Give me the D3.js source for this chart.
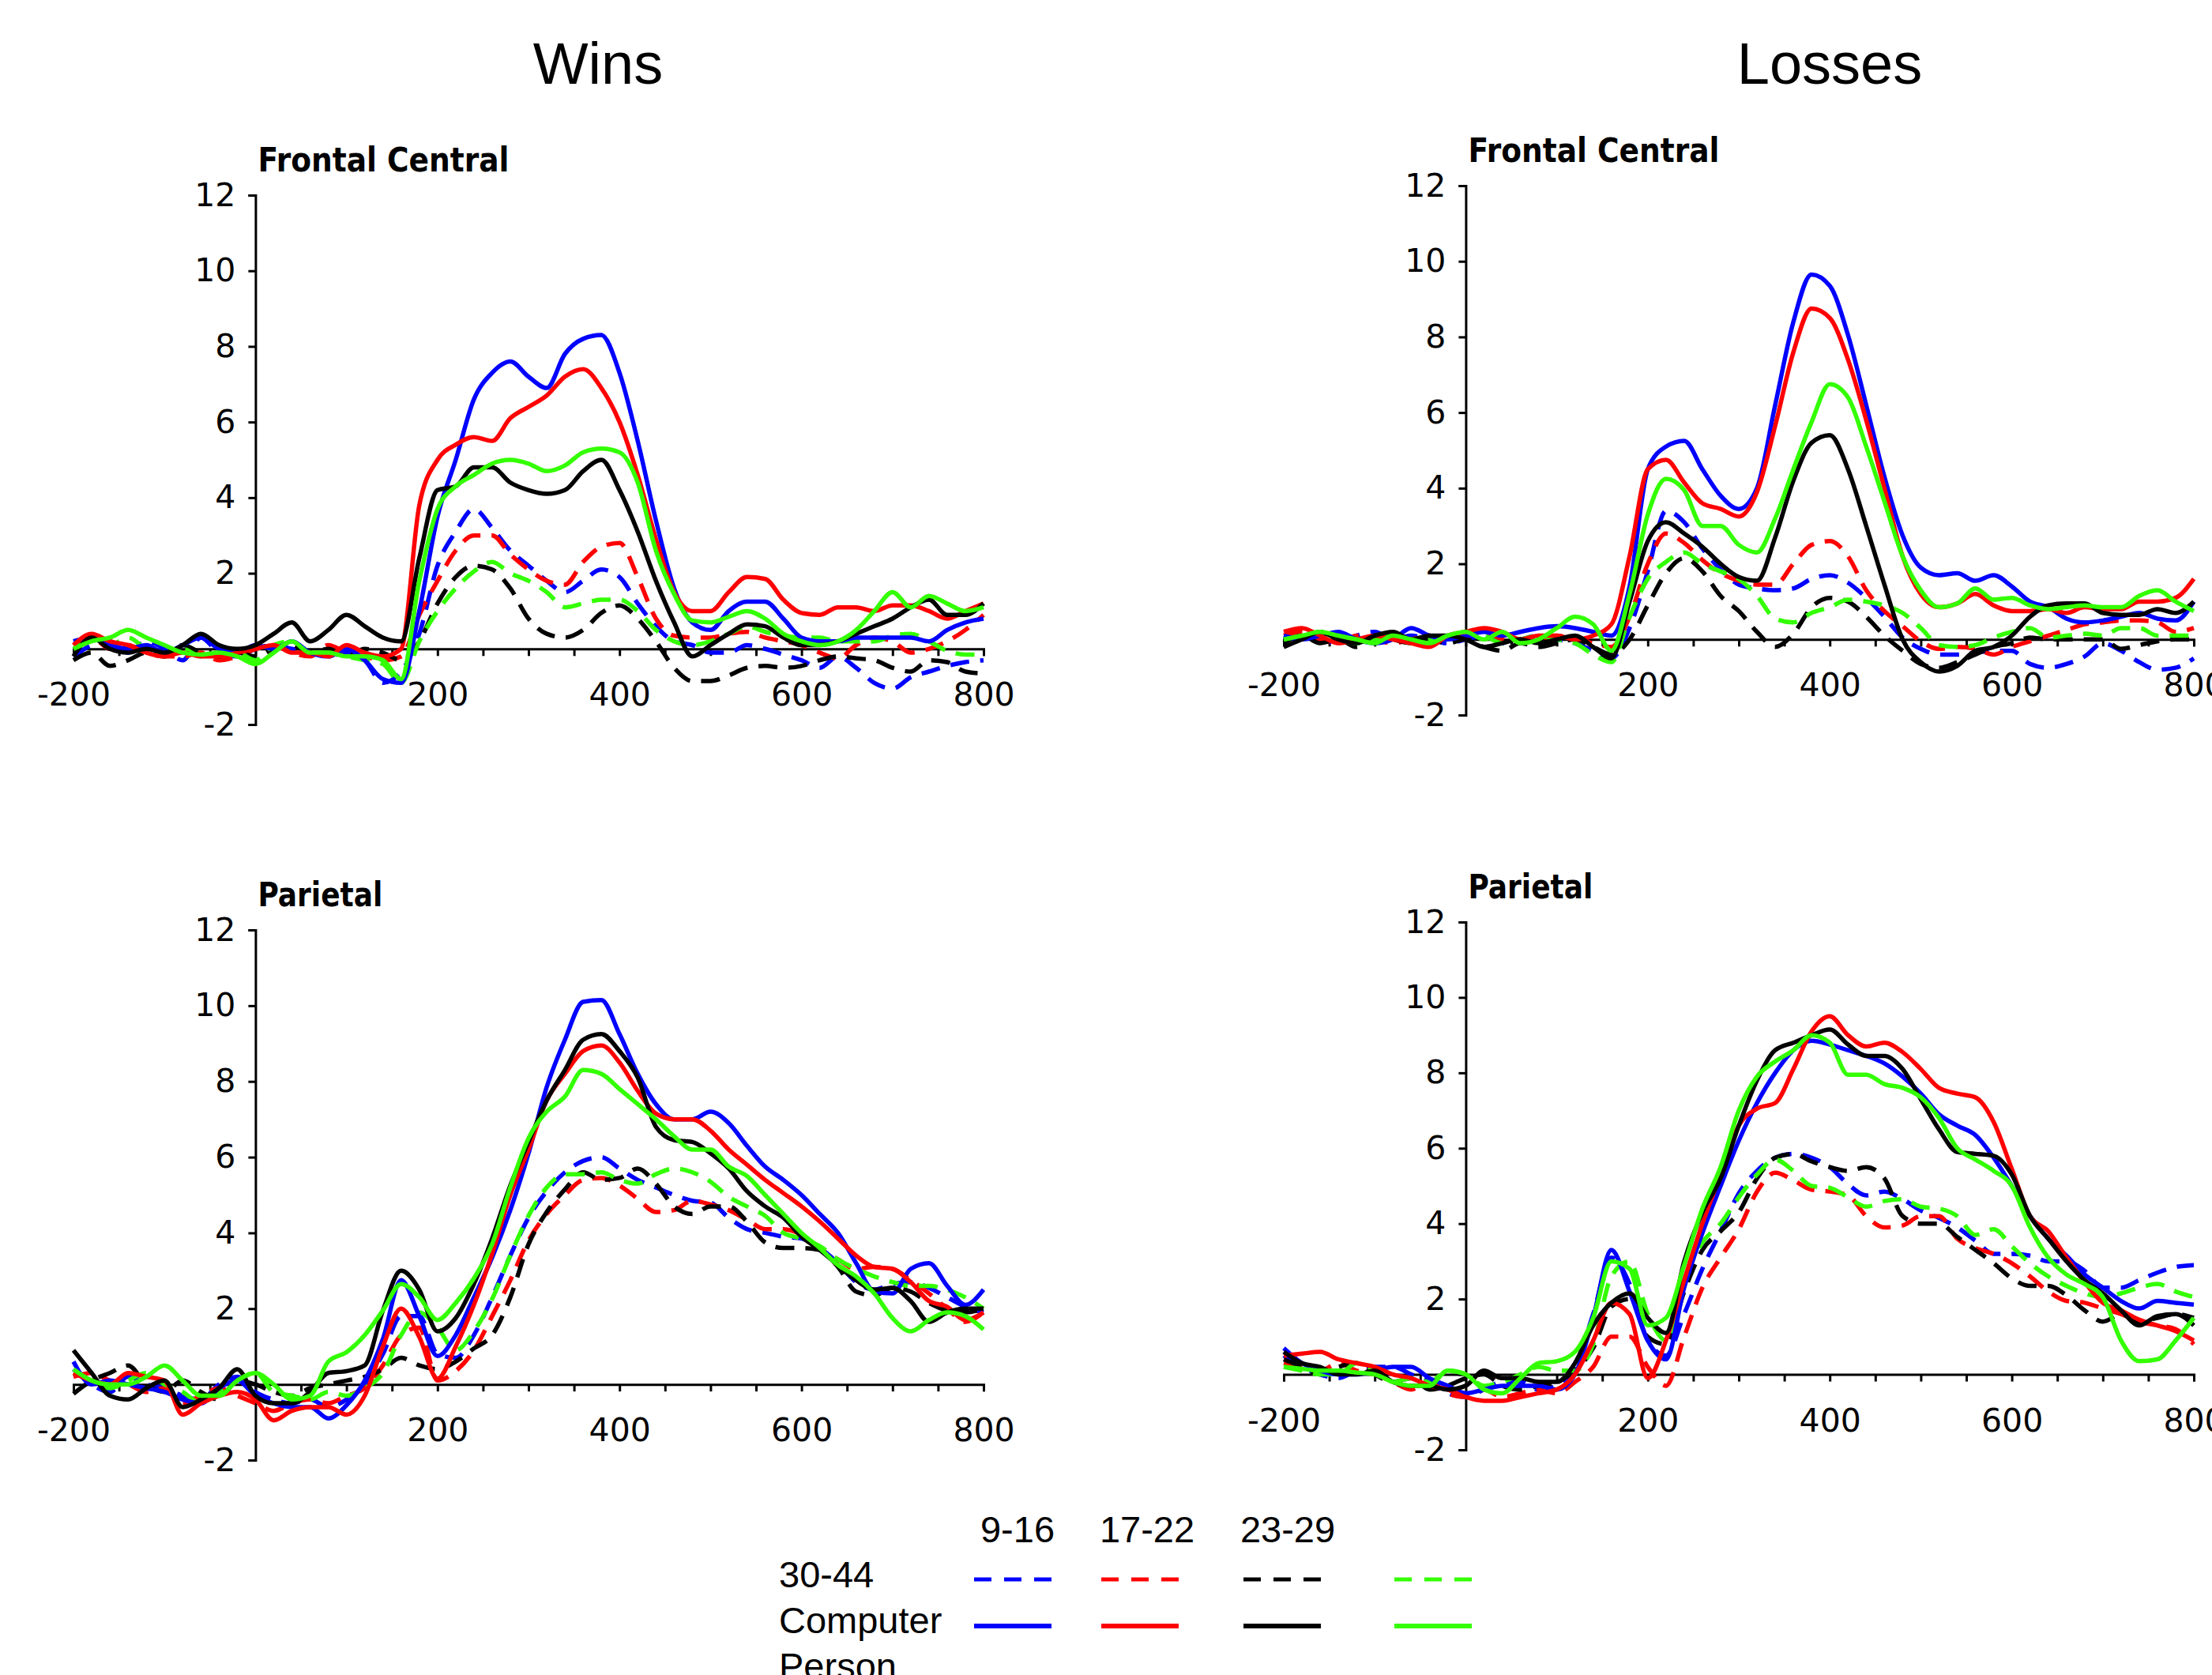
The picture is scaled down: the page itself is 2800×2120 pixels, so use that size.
<!DOCTYPE html>
<html>
<head>
<meta charset="utf-8">
<script src="https://cdn.jsdelivr.net/npm/d3@7"></script>
<style>
  body { margin: 0; background: #fff; }
</style>
</head>
<body>
<script>

// sample times (ms) shared by every waveform
var times = [-200,-180,-160,-140,-120,-100,-80,-60,-40,-20,
             0,20,40,60,80,100,120,140,160,180,
             200,220,240,260,280,300,320,340,360,380,
             400,420,440,460,480,500,520,540,560,580,
             600,620,640,660,680,700,720,740,760,780,800];

var ageGroups = ["9-16", "17-22", "23-29", "30-44"];
var groupColors = ["#0000ff", "#ff0000", "#000000", "#33ff00"];
var rowLabels = ["30-44", "Computer", "Person"];
var columnTitles = ["Wins", "Losses"];
var regionNames = ["Frontal Central", "Parietal"];

var yTicks = [-2, 0, 2, 4, 6, 8, 10, 12];
var xTicks = [-200,-150,-100,-50,0,50,100,150,200,250,300,350,400,450,500,550,600,650,700,750,800];
var xLabels = [-200, 200, 400, 600, 800];

// ---- Wins, Frontal Central ----
var wfDash916  = [-0.2,0.1,0.2,-0.1,0.2,0.0,-0.3,0.3,-0.1,-0.2, 0.0,0.1,0.0,-0.1,-0.2,-0.1,-0.3,-0.9,-0.6,0.4, 2.2,3.1,3.7,3.2,2.6,2.2,1.8,1.5,1.8,2.1, 1.9,1.2,0.6,0.2,0.1,-0.1,-0.1,0.1,0.0,-0.15, -0.3,-0.5,-0.2,-0.5,-0.9,-1.05,-0.75,-0.6,-0.45,-0.35, -0.3];
var wfDash1722 = [0.1,0.3,0.0,0.1,-0.1,-0.2,-0.2,-0.1,-0.3,-0.2, 0.0,0.1,-0.1,-0.2,0.1,-0.1,-0.2,-0.3,-0.2,0.9, 1.8,2.6,3.0,3.0,2.5,2.1,1.8,1.7,2.3,2.7, 2.8,1.9,0.8,0.35,0.3,0.3,0.4,0.45,0.3,0.2, 0.1,-0.1,-0.25,0.1,0.3,0.2,-0.1,0.0,0.2,0.5, 0.9];
var wfDash2329 = [-0.3,-0.1,-0.45,-0.3,-0.1,-0.2,0.1,-0.1,-0.2,-0.1, -0.2,0.0,0.1,-0.1,0.0,-0.2,0.0,-0.1,-0.3,0.2, 1.2,1.9,2.2,2.1,1.6,0.8,0.4,0.3,0.5,0.95, 1.15,0.8,0.2,-0.5,-0.85,-0.85,-0.7,-0.5,-0.45,-0.5, -0.45,-0.3,-0.2,-0.25,-0.3,-0.5,-0.6,-0.3,-0.35,-0.6, -0.65];
var wfDash3044 = [0.0,0.2,0.1,0.3,0.0,-0.1,0.0,-0.2,-0.1,-0.1, -0.3,0.1,0.2,-0.1,-0.1,-0.2,-0.3,-0.4,-0.9,0.2, 1.0,1.6,2.05,2.3,2.0,1.8,1.5,1.1,1.2,1.3, 1.3,1.0,0.5,0.2,0.1,0.2,0.4,0.6,0.45,0.35, 0.3,0.3,0.2,0.2,0.2,0.35,0.4,0.2,-0.05,-0.15, -0.15];
var wfSolid916  = [0.2,0.3,0.1,0.0,0.1,-0.1,0.1,0.3,0.0,-0.1, 0.1,0.0,0.2,-0.1,-0.2,0.0,-0.3,-0.8,-0.9,1.0, 3.5,5.0,6.6,7.3,7.6,7.2,6.9,7.8,8.2,8.3, 7.3,5.5,3.4,1.6,0.7,0.5,1.0,1.25,1.25,0.8, 0.3,0.2,0.2,0.3,0.3,0.3,0.3,0.2,0.5,0.7, 0.8];
var wfSolid1722 = [0.1,0.4,0.2,0.1,-0.1,-0.2,-0.1,-0.2,-0.2,-0.1, 0.0,0.1,-0.1,-0.1,-0.2,0.1,-0.1,-0.2,0.0,3.8, 5.0,5.4,5.6,5.5,6.1,6.4,6.7,7.2,7.4,6.9, 6.0,4.6,2.9,1.5,1.0,1.0,1.5,1.9,1.85,1.3, 0.95,0.9,1.1,1.1,1.0,1.15,1.15,1.0,0.8,1.0, 1.2];
var wfSolid2329 = [-0.2,0.3,0.0,-0.1,0.0,-0.1,0.1,0.4,0.1,0.0, 0.1,0.4,0.7,0.2,0.5,0.9,0.6,0.3,0.2,2.4, 4.2,4.3,4.8,4.8,4.4,4.2,4.1,4.2,4.7,5.0, 4.2,3.1,1.8,0.7,-0.2,0.1,0.4,0.65,0.6,0.3, 0.1,0.1,0.2,0.4,0.6,0.8,1.1,1.3,0.9,0.9, 1.2];
var wfSolid3044 = [0.0,0.2,0.3,0.5,0.3,0.1,-0.1,-0.15,-0.1,-0.2, -0.4,-0.1,0.2,-0.1,-0.1,-0.2,-0.2,-0.3,-0.8,1.8, 3.7,4.3,4.6,4.9,5.0,4.9,4.7,4.85,5.2,5.3, 5.2,4.4,2.6,1.45,0.75,0.7,0.85,1.0,0.8,0.4, 0.2,0.1,0.2,0.5,1.0,1.5,1.1,1.4,1.2,1.0, 1.1];

// ---- Losses, Frontal Central ----
var lfDash916  = [0.0,0.1,0.0,-0.1,0.1,0.2,0.0,0.1,0.0,-0.1, 0.0,0.1,-0.1,0.0,0.1,0.0,-0.1,-0.3,-0.5,0.3, 1.8,3.4,3.1,2.4,1.85,1.45,1.35,1.3,1.35,1.6, 1.7,1.5,1.1,0.6,0.05,-0.25,-0.4,-0.4,-0.35,-0.3, -0.3,-0.65,-0.75,-0.65,-0.45,-0.1,-0.3,-0.6,-0.8,-0.75, -0.5];
var lfDash1722 = [0.1,0.2,0.0,-0.1,0.1,0.0,-0.1,0.0,0.1,0.0, 0.1,0.2,0.0,-0.1,0.0,0.1,0.0,-0.1,-0.2,0.6, 2.0,2.8,2.55,2.1,1.75,1.55,1.45,1.45,2.0,2.5, 2.6,2.2,1.3,0.75,0.35,-0.05,-0.25,-0.2,-0.25,-0.4, -0.2,-0.05,0.1,0.25,0.4,0.45,0.5,0.5,0.45,0.2, 0.3];
var lfDash2329 = [-0.1,0.1,-0.1,0.0,-0.2,0.1,0.0,-0.1,0.0,-0.1, 0.0,-0.2,-0.3,-0.1,-0.2,-0.1,0.0,-0.2,-0.4,0.0, 0.9,1.75,2.15,1.8,1.15,0.75,0.2,-0.2,0.15,0.85, 1.1,1.0,0.6,0.1,-0.3,-0.65,-0.75,-0.6,-0.4,-0.2, -0.1,0.05,0.0,0.0,0.0,0.0,-0.25,-0.15,-0.05,0.0, 0.0];
var lfDash3044 = [0.0,0.1,0.2,0.0,-0.1,0.0,0.1,-0.1,0.0,0.0, 0.2,0.1,-0.1,0.0,0.1,0.0,-0.1,-0.4,-0.6,0.6, 1.6,2.05,2.3,2.0,1.8,1.6,1.15,0.55,0.45,0.7, 0.85,1.05,1.0,0.9,0.7,0.3,-0.15,-0.2,-0.15,0.05, 0.2,0.3,0.05,0.1,0.15,0.1,0.3,0.3,0.1,0.1, 0.1];
var lfSolid916  = [0.1,0.0,0.1,0.2,0.0,-0.1,0.0,0.3,0.1,0.0, 0.1,0.2,0.1,0.2,0.3,0.35,0.3,0.2,0.1,1.4, 4.5,5.1,5.25,4.5,3.8,3.45,4.0,6.2,8.4,9.65, 9.35,8.05,6.2,4.3,2.75,1.9,1.7,1.75,1.55,1.7, 1.4,1.0,0.85,0.55,0.45,0.5,0.6,0.7,0.55,0.5, 1.0];
var lfSolid1722 = [0.2,0.3,0.1,-0.1,0.0,0.1,0.0,-0.1,-0.2,0.1, 0.2,0.3,0.2,0.0,0.1,0.1,0.0,0.1,0.4,2.2, 4.5,4.75,4.15,3.6,3.45,3.25,3.9,5.65,7.6,8.75, 8.5,7.4,5.8,4.0,2.2,1.2,0.85,0.95,1.2,0.9, 0.75,0.75,0.8,0.7,0.85,0.8,0.8,1.0,1.0,1.1, 1.6];
var lfSolid2329 = [-0.2,0.0,0.2,0.0,-0.1,0.1,0.2,0.0,0.1,0.1, 0.0,-0.2,-0.1,0.0,-0.1,0.0,0.1,-0.2,-0.5,1.0, 2.6,3.1,2.8,2.45,2.0,1.65,1.55,2.7,4.2,5.2, 5.4,4.5,3.0,1.45,0.0,-0.6,-0.85,-0.7,-0.3,-0.2, 0.1,0.6,0.9,0.95,0.95,0.7,0.65,0.65,0.8,0.7, 1.0];
var lfSolid3044 = [0.0,0.1,0.2,0.1,0.0,-0.1,0.1,0.0,-0.1,0.1, 0.2,0.0,0.2,-0.1,0.0,0.3,0.6,0.4,-0.3,1.2, 3.3,4.25,3.95,3.0,3.0,2.5,2.3,3.2,4.5,5.75, 6.75,6.4,5.1,3.65,2.2,1.3,0.85,0.95,1.35,1.05, 1.1,0.9,0.8,0.85,0.9,0.85,0.85,1.15,1.3,1.0, 0.75];

// ---- Wins, Parietal ----
var wpDash916  = [0.4,0.0,-0.2,0.2,0.0,-0.1,-0.3,-0.4,0.0,0.2, -0.2,-0.4,-0.5,-0.4,-0.6,-0.4,0.0,0.8,1.8,1.8, 0.8,0.7,1.3,2.3,3.4,4.4,5.1,5.6,5.9,6.0, 5.7,5.4,5.2,5.0,4.85,4.8,4.4,4.1,4.0,3.9, 3.85,3.6,3.2,2.7,2.5,2.65,2.7,2.55,2.3,2.05, 1.9];
var wpDash1722 = [0.2,0.3,0.1,0.0,-0.2,-0.1,-0.5,-0.3,-0.1,-0.3, -0.5,-0.7,-0.5,-0.4,-0.5,-0.3,-0.1,0.5,1.3,1.5, 0.1,0.35,0.9,1.8,2.75,3.8,4.5,5.0,5.4,5.45, 5.25,4.9,4.55,4.6,4.85,4.75,4.6,4.35,4.1,4.1, 3.95,3.6,3.3,3.05,3.1,3.05,2.75,2.4,2.0,1.65, 1.9];
var wpDash2329 = [-0.25,0.1,0.3,0.5,0.0,-0.2,0.1,-0.2,-0.4,0.1, 0.0,-0.2,-0.3,-0.1,0.0,0.1,0.2,0.4,0.7,0.5, 0.4,0.6,0.95,1.3,2.3,3.7,4.55,5.15,5.6,5.4, 5.45,5.7,5.3,4.7,4.5,4.7,4.7,4.3,3.75,3.6, 3.6,3.55,3.1,2.45,2.35,2.55,2.45,2.15,1.95,1.9, 2.0];
var wpDash3044 = [0.3,0.1,-0.1,0.1,0.3,0.0,-0.2,-0.5,-0.2,0.1, 0.3,-0.2,-0.3,-0.4,-0.2,-0.3,-0.1,0.3,1.3,1.9, 1.5,0.9,1.4,2.25,3.4,4.45,5.2,5.55,5.55,5.6, 5.4,5.3,5.55,5.7,5.6,5.35,4.95,4.7,4.45,4.0, 3.85,3.65,3.3,3.05,2.85,2.7,2.6,2.6,2.5,2.3, 2.0];
var wpSolid916  = [0.6,0.0,0.1,0.0,-0.1,-0.2,-0.4,-0.5,-0.1,0.1, -0.3,-0.5,-0.6,-0.6,-0.9,-0.55,0.1,1.2,2.75,1.8, 0.75,1.3,2.3,3.35,4.6,6.1,7.85,9.1,10.1,10.15, 9.25,8.2,7.4,7.0,7.0,7.2,6.9,6.3,5.75,5.4, 5.0,4.5,4.0,3.2,2.45,2.4,3.05,3.2,2.6,2.1, 2.5];
var wpSolid1722 = [0.3,0.1,0.0,0.3,0.2,0.1,-0.8,-0.5,-0.3,-0.2, -0.4,-0.95,-0.7,-0.6,-0.6,-0.8,-0.3,1.0,2.0,1.25, 0.15,1.0,2.1,3.45,5.0,6.2,7.5,8.2,8.8,8.95, 8.5,7.75,7.15,7.0,7.0,6.7,6.2,5.8,5.4,5.05, 4.7,4.3,3.85,3.4,3.1,3.05,2.7,2.2,2.05,1.7, 1.9];
var wpSolid2329 = [0.9,0.3,-0.3,-0.4,-0.1,0.1,-0.6,-0.4,-0.1,0.4, -0.3,-0.5,-0.5,-0.2,0.3,0.35,0.5,1.95,3.0,2.5, 1.4,1.75,2.65,3.85,5.25,6.4,7.5,8.3,9.1,9.25, 8.8,8.1,6.8,6.45,6.4,6.1,5.7,5.1,4.7,4.4, 3.9,3.55,3.15,2.75,2.5,2.55,2.2,1.65,1.9,2.0, 2.0];
var wpSolid3044 = [0.4,0.1,0.0,0.0,0.2,0.5,0.1,-0.3,-0.3,0.1, 0.3,0.0,-0.4,-0.3,0.6,0.85,1.3,1.95,2.65,2.3, 1.7,2.15,2.8,3.7,5.2,6.5,7.2,7.6,8.3,8.2, 7.8,7.4,7.0,6.55,6.2,6.2,5.75,5.5,5.0,4.5, 4.0,3.6,3.15,2.85,2.4,1.75,1.4,1.7,1.9,1.8, 1.45];

// ---- Losses, Parietal ----
var lpDash916  = [0.5,0.2,0.0,-0.1,0.1,0.2,0.2,0.0,-0.2,-0.5, -0.6,-0.4,-0.2,-0.2,-0.4,-0.3,0.2,1.6,3.1,2.4, 0.9,0.5,1.6,2.8,3.8,4.8,5.4,5.75,5.85,5.75, 5.5,5.05,4.75,4.85,4.65,4.35,4.15,3.9,3.55,3.2, 3.2,3.15,3.0,3.0,2.75,2.3,2.3,2.5,2.7,2.85, 2.9];
var lpDash1722 = [0.3,0.2,0.1,0.3,0.1,0.0,-0.2,-0.4,-0.2,-0.5, -0.6,-0.4,-0.6,-0.5,-0.4,-0.5,-0.2,0.2,1.0,1.0, 0.2,-0.3,1.0,2.3,3.1,3.85,4.85,5.35,5.15,4.9, 4.85,4.75,4.2,3.9,3.95,4.2,4.2,3.6,3.35,3.2, 2.95,2.6,2.2,1.95,1.9,1.75,1.6,1.4,1.3,1.2, 0.8];
var lpDash2329 = [0.4,0.2,0.0,0.2,0.3,0.0,-0.2,-0.1,-0.4,-0.3, -0.1,0.0,-0.3,-0.4,-0.3,-0.2,0.1,0.7,1.8,2.0, 1.0,0.8,2.2,3.3,3.8,4.3,5.2,5.75,5.85,5.65, 5.5,5.4,5.5,5.2,4.2,4.0,4.0,3.65,3.3,2.95, 2.55,2.35,2.35,2.1,1.7,1.4,1.6,1.4,1.5,1.6, 1.5];
var lpDash3044 = [0.2,0.1,0.0,0.0,0.3,0.1,-0.2,-0.1,-0.2,0.1, 0.0,-0.3,-0.2,0.0,0.2,0.1,0.1,0.8,2.6,3.0, 1.6,0.9,2.5,3.5,4.0,4.7,5.3,5.7,5.4,5.0, 4.95,4.7,4.45,4.6,4.65,4.45,4.4,4.2,3.7,3.85, 3.4,2.95,2.6,2.35,2.15,2.05,2.15,2.3,2.4,2.2, 2.05];
var lpSolid916  = [0.7,0.3,0.1,0.0,0.0,0.1,0.2,0.2,-0.1,-0.3, -0.5,-0.4,-0.3,-0.3,-0.3,-0.4,0.0,1.5,3.3,2.2, 0.9,0.4,2.3,3.75,5.0,6.2,7.2,8.0,8.6,8.85, 8.75,8.6,8.45,8.25,7.9,7.45,6.9,6.6,6.35,5.75, 5.0,4.2,3.6,3.15,2.65,2.3,1.95,1.75,1.95,1.9, 1.85];
var lpSolid1722 = [0.5,0.55,0.6,0.4,0.3,0.2,0.0,-0.1,-0.3,-0.4, -0.6,-0.7,-0.7,-0.6,-0.5,-0.4,0.0,0.9,1.9,1.6, -0.1,0.9,2.5,4.0,5.3,6.6,7.05,7.2,8.1,9.1, 9.5,9.0,8.7,8.8,8.55,8.1,7.6,7.45,7.35,6.7, 5.45,4.2,3.8,3.1,2.45,1.9,1.7,1.45,1.3,1.15, 0.9];
var lpSolid2329 = [0.6,0.3,0.2,0.0,0.0,0.1,-0.2,-0.3,-0.3,-0.4, -0.3,0.1,-0.1,-0.1,-0.2,-0.2,0.3,1.3,1.9,2.15, 1.5,1.1,3.0,4.3,5.2,6.6,7.8,8.6,8.8,9.0, 9.15,8.75,8.45,8.45,8.1,7.3,6.5,5.9,5.85,5.8, 5.3,4.2,3.6,3.0,2.5,2.15,1.7,1.3,1.55,1.6, 1.3];
var lpSolid3044 = [0.2,0.15,0.1,0.1,0.05,0.0,-0.2,-0.3,-0.3,0.1, 0.0,-0.4,-0.5,-0.1,0.3,0.35,0.6,1.5,3.0,2.8, 1.3,1.5,2.9,4.4,5.5,7.0,7.9,8.3,8.6,9.0, 8.8,7.95,7.95,7.7,7.6,7.35,6.8,6.0,5.7,5.4, 5.0,3.9,3.1,2.65,2.4,2.05,0.9,0.35,0.4,0.9, 1.5];

// layout of the four panels (pixel boxes of the axes)
var panels = [
  {region: regionNames[0], left: 93,   right: 1245, top: 247,  bottom: 917,  labelWidth: 318,
   dashed: [wfDash916, wfDash1722, wfDash2329, wfDash3044], solid: [wfSolid916, wfSolid1722, wfSolid2329, wfSolid3044]},
  {region: regionNames[0], left: 1625, right: 2777, top: 235,  bottom: 905,  labelWidth: 318,
   dashed: [lfDash916, lfDash1722, lfDash2329, lfDash3044], solid: [lfSolid916, lfSolid1722, lfSolid2329, lfSolid3044]},
  {region: regionNames[1], left: 93,   right: 1245, top: 1177, bottom: 1848, labelWidth: 158,
   dashed: [wpDash916, wpDash1722, wpDash2329, wpDash3044], solid: [wpSolid916, wpSolid1722, wpSolid2329, wpSolid3044]},
  {region: regionNames[1], left: 1625, right: 2777, top: 1167, bottom: 1835, labelWidth: 158,
   dashed: [lpDash916, lpDash1722, lpDash2329, lpDash3044], solid: [lpSolid916, lpSolid1722, lpSolid2329, lpSolid3044]}
];

var svg = d3.select("body").append("svg")
    .attr("width", 2800)
    .attr("height", 2120)
    .style("display", "block");

// column titles
svg.selectAll(".col-title")
    .data(columnTitles)
  .enter().append("text")
    .attr("class", "col-title")
    .attr("x", function(d, i) { return i == 0 ? 757 : 2316; })
    .attr("y", 106)
    .attr("text-anchor", "middle")
    .style("font-family", "'Liberation Sans', Arial, sans-serif")
    .style("font-size", "74px")
    .text(function(d) { return d; });

panels.forEach(function(p) {

  var x = d3.scaleLinear().domain([-200, 800]).range([p.left, p.right]);
  var y = d3.scaleLinear().domain([-2, 12]).range([p.bottom, p.top]);

  var g = svg.append("g");

  // panel label
  g.append("text")
      .attr("x", x(0) + 3)
      .attr("y", p.top - 30)
      .attr("textLength", p.labelWidth)
      .attr("lengthAdjust", "spacingAndGlyphs")
      .style("font-family", "'DejaVu Sans', Verdana, sans-serif")
      .style("font-weight", "bold")
      .style("font-size", "42px")
      .text(p.region);

  // x axis sits on zero
  var xAxis = g.append("g")
      .attr("transform", "translate(0," + y(0) + ")")
      .call(d3.axisBottom(x)
        .tickValues(xTicks)
        .tickSize(9)
        .tickSizeOuter(9)
        .tickPadding(34)
        .tickFormat(function(d) { return xLabels.indexOf(d) >= 0 ? d : ""; }));

  // y axis sits on time zero
  var yAxis = g.append("g")
      .attr("transform", "translate(" + x(0) + ",0)")
      .call(d3.axisLeft(y)
        .tickValues(yTicks)
        .tickSize(9)
        .tickSizeOuter(9)
        .tickPadding(16)
        .tickFormat(function(d) { return d == 0 ? "" : d; }));

  [xAxis, yAxis].forEach(function(ax) {
    ax.selectAll("path, line").attr("stroke", "#000").attr("stroke-width", 3);
    ax.selectAll("text")
      .attr("fill", "#000")
      .style("font-family", "'DejaVu Sans', Verdana, sans-serif")
      .style("font-size", "41px");
  });

  var valueline = d3.line()
      .x(function(d, i) { return x(times[i]); })
      .y(function(d) { return y(d); })
      .curve(d3.curveMonotoneX);

  p.dashed.forEach(function(vals, k) {
    g.append("path")
        .datum(vals)
        .attr("d", valueline)
        .attr("fill", "none")
        .attr("stroke", groupColors[k])
        .attr("stroke-width", 5.5)
        .attr("stroke-dasharray", "24,14");
  });

  p.solid.forEach(function(vals, k) {
    g.append("path")
        .datum(vals)
        .attr("d", valueline)
        .attr("fill", "none")
        .attr("stroke", groupColors[k])
        .attr("stroke-width", 5.5)
        .attr("stroke-linejoin", "round");
  });
});

// legend (as laid out in the original figure)
var legend = svg.append("g")
    .style("font-family", "'Liberation Sans', Arial, sans-serif")
    .style("font-size", "47px");

var headerX = [1288, 1452, 1630];
legend.selectAll(".head")
    .data(ageGroups.slice(0, 3))
  .enter().append("text")
    .attr("x", function(d, i) { return headerX[i]; })
    .attr("y", 1952)
    .attr("text-anchor", "middle")
    .text(function(d) { return d; });

legend.selectAll(".row")
    .data(rowLabels)
  .enter().append("text")
    .attr("x", 986)
    .attr("y", function(d, i) { return 2009 + i * 58; })
    .text(function(d) { return d; });

var swatchX = [1233, 1394, 1574, 1765];
groupColors.forEach(function(c, k) {
  legend.append("line")
      .attr("x1", swatchX[k]).attr("x2", swatchX[k] + 98)
      .attr("y1", 1999).attr("y2", 1999)
      .attr("stroke", c)
      .attr("stroke-width", 5)
      .attr("stroke-dasharray", "22,16");
  legend.append("line")
      .attr("x1", swatchX[k]).attr("x2", swatchX[k] + 98)
      .attr("y1", 2058).attr("y2", 2058)
      .attr("stroke", c)
      .attr("stroke-width", 6);
});

</script>
</body>
</html>
